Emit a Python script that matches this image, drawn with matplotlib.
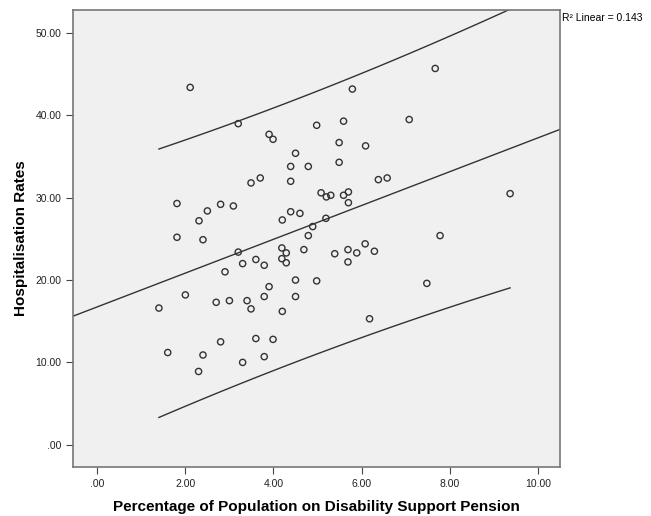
import numpy as np
import matplotlib
matplotlib.use("Agg")
import matplotlib.pyplot as plt
from matplotlib.ticker import FuncFormatter

# Percentage of population on DSP vs hospitalisation rate
dsp = [2.11, 3.20, 3.90, 3.99, 4.50, 4.39, 4.79, 4.39, 3.49, 3.70,
       4.98, 5.08, 1.81, 2.80, 3.09, 2.50, 2.31, 4.39, 4.60, 4.20,
       4.89, 4.79, 1.81, 2.40, 7.67, 5.79, 5.59, 7.08, 5.49, 6.09,
       5.49, 6.38, 6.58, 5.20, 5.30, 5.59, 5.70, 5.70, 9.37, 5.19,
       7.78, 3.20, 4.19, 4.29, 4.69, 3.30, 3.60, 3.79, 4.19, 4.29,
       2.90, 4.50, 4.98, 3.90, 3.79, 4.50, 2.00, 1.40, 2.70, 3.00,
       3.40, 3.49, 4.20, 1.60, 2.40, 2.80, 3.60, 3.99, 2.30, 3.30,
       3.79, 5.39, 5.69, 5.69, 5.89, 6.08, 6.29, 7.48, 6.18]
hosp = [43.4, 39.0, 37.7, 37.1, 35.4, 33.8, 33.8, 32.0, 31.8, 32.4,
        38.8, 30.6, 29.3, 29.2, 29.0, 28.4, 27.2, 28.3, 28.1, 27.3,
        26.5, 25.4, 25.2, 24.9, 45.7, 43.2, 39.3, 39.5, 36.7, 36.3,
        34.3, 32.2, 32.4, 30.1, 30.3, 30.3, 30.7, 29.4, 30.5, 27.5,
        25.4, 23.4, 23.9, 23.3, 23.7, 22.0, 22.5, 21.8, 22.6, 22.1,
        21.0, 20.0, 19.9, 19.2, 18.0, 18.0, 18.2, 16.6, 17.3, 17.5,
        17.5, 16.5, 16.2, 11.2, 10.9, 12.5, 12.9, 12.8, 8.9, 10.0,
        10.7, 23.2, 23.7, 22.2, 23.3, 24.4, 23.5, 19.6, 15.3]

xticks = [0, 2, 4, 6, 8, 10]
yticks = [0, 10, 20, 30, 40, 50]
r2_label = "R\u00b2 Linear = 0.143"

plt.rcParams['font.family'] = ['Liberation Sans', 'DejaVu Sans']

x = np.array(dsp)
y = np.array(hosp)
n = len(x)

# least squares fit and 95% prediction interval
slope, icpt = np.polyfit(x, y, 1)
resid = y - (icpt + slope * x)
s = np.sqrt(np.sum(resid ** 2) / (n - 2))
tval = 1.991  # t(0.975, df=77)
sxx = np.sum((x - x.mean()) ** 2)

fig = plt.figure(figsize=(6.51, 5.16), dpi=100)
ax = fig.add_axes([0.1121, 0.095, 0.748, 0.8856])
ax.set_facecolor("#f0f0f0")

ax.set_xlim(-0.55, 10.5)
ax.set_ylim(-2.7, 52.8)

xl = np.linspace(-0.55, 10.5, 50)
ax.plot(xl, icpt + slope * xl, color="#333333", lw=1.0, zorder=2)

xp = np.linspace(x.min(), x.max(), 100)
half = tval * s * np.sqrt(1 + 1 / n + (xp - x.mean()) ** 2 / sxx)
ax.plot(xp, icpt + slope * xp + half, color="#333333", lw=1.0, zorder=2)
ax.plot(xp, icpt + slope * xp - half, color="#333333", lw=1.0, zorder=2)

ax.scatter(x, y, s=20, facecolors="none", edgecolors="#333333",
           linewidths=1.0, zorder=3)

fmt = FuncFormatter(lambda v, p: ("%.2f" % v).lstrip("0") if abs(v) < 1 else "%.2f" % v)
ax.set_xticks(xticks)
ax.set_yticks(yticks)
ax.xaxis.set_major_formatter(fmt)
ax.yaxis.set_major_formatter(fmt)
ax.tick_params(labelsize=7.5, length=5, width=0.8, color="#444444", colors="#222222")

for sp in ax.spines.values():
    sp.set_color("#777777")
    sp.set_linewidth(1.2)

ax.set_xlabel("Percentage of Population on Disability Support Pension",
              fontsize=11, fontweight="bold", labelpad=8)
ax.set_ylabel("Hospitalisation Rates", fontsize=11, fontweight="bold", labelpad=5)

fig.text(0.864, 0.965, r2_label, fontsize=7.5, ha="left", va="center")

fig.savefig("out.png", dpi=100)
